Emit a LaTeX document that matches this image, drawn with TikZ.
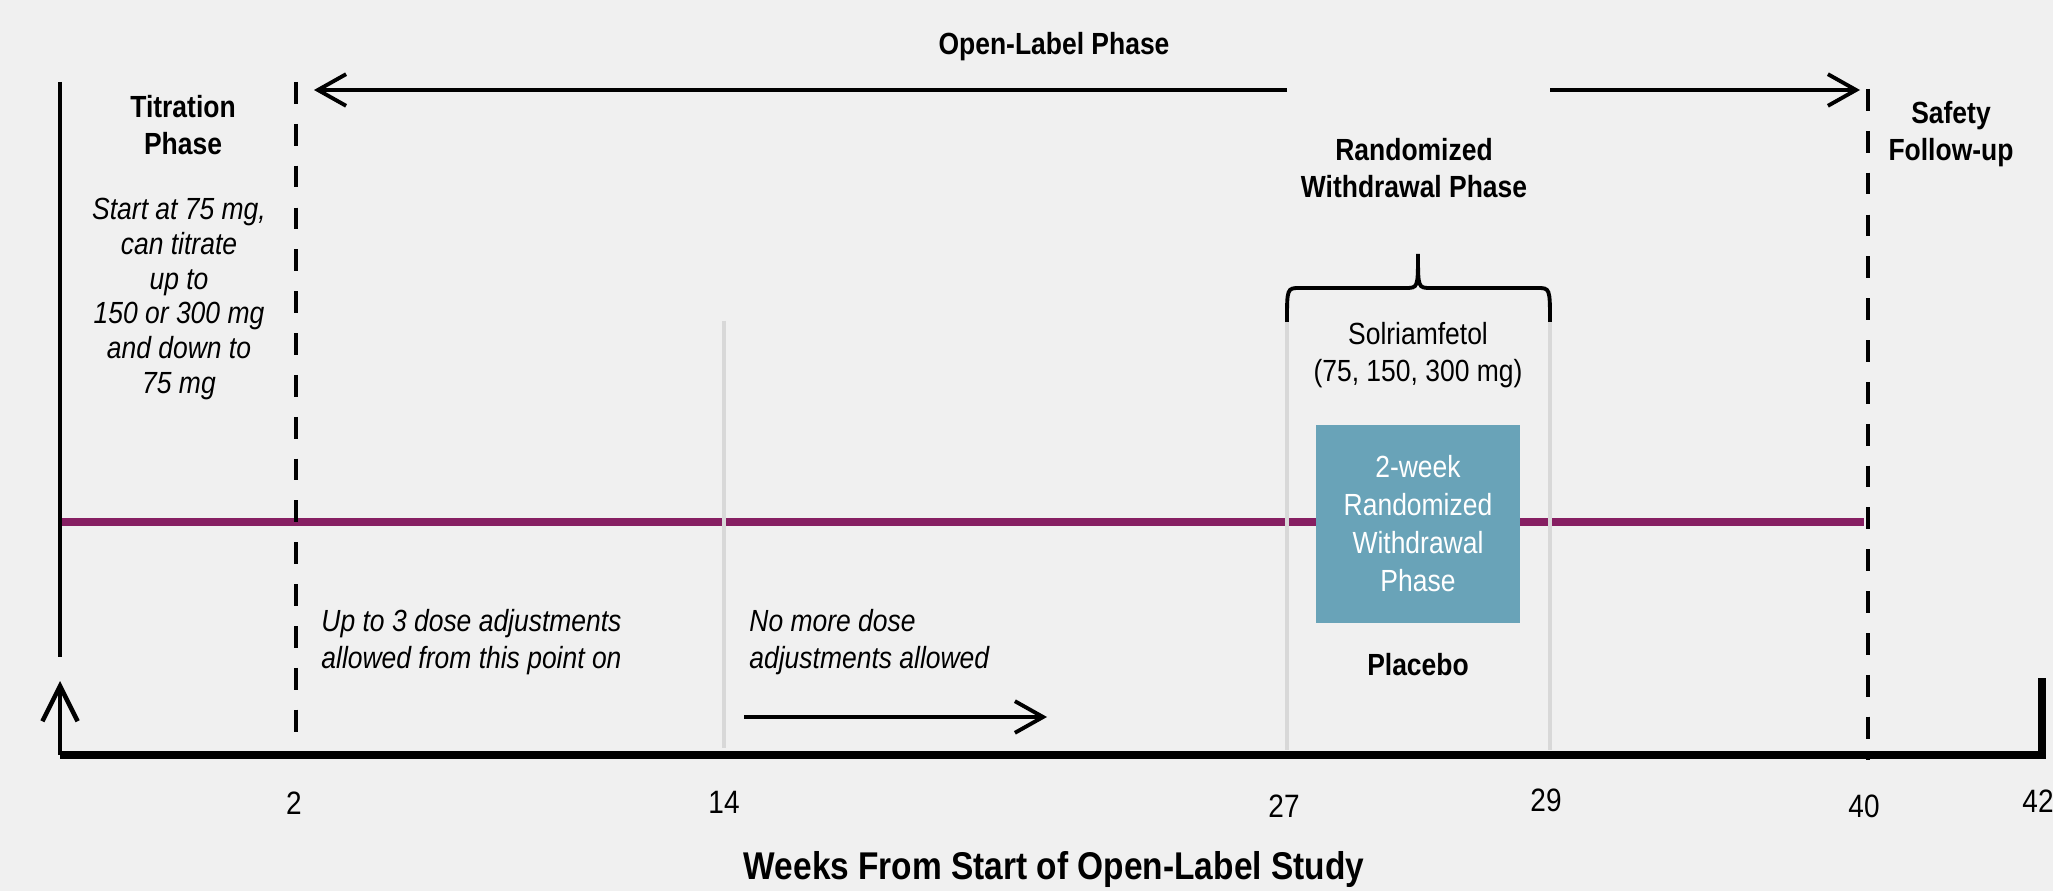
\documentclass[tikz,border=0pt]{standalone}
\usepackage{fontspec}
\setmainfont{Liberation Sans}[FakeStretch=0.865]
\usepackage{tikz}
\usetikzlibrary{arrows.meta,positioning}
\definecolor{bgray}{RGB}{240,240,240}
\definecolor{plum}{RGB}{134,31,98}
\definecolor{steel}{RGB}{105,163,184}
\definecolor{lgray}{RGB}{216,216,216}
\tikzstyle{phase} = [text=black, align=center, font=\bfseries\fontsize{8.7}{10.6}\selectfont]
\tikzstyle{note} = [text=black, align=center, font=\itshape\fontsize{8.7}{9.9}\selectfont]
\tikzstyle{noteleft} = [text=black, align=left, anchor=west, font=\itshape\fontsize{8.7}{10.7}\selectfont]
\tikzstyle{drug} = [text=black, align=center, font=\fontsize{8.7}{10.7}\selectfont]
\tikzstyle{weeklabel} = [text=black, font=\fontsize{9.2}{11}\selectfont]
\tikzstyle{rwbox} = [fill=steel, text=white, align=center, inner sep=0pt, minimum width=2.04cm, minimum height=1.97cm, font=\fontsize{8.7}{10.8}\selectfont]
\tikzstyle{tedge}  = [draw, line width=1.1pt, -{Straight Barb[length=8pt,width=9pt]}]
\tikzstyle{upedge}  = [draw, line width=1.3pt, -{Straight Barb[length=10pt,width=10pt]}]
\tikzstyle{phaseline} = [draw, line width=1.4pt, dash pattern=on 6.2pt off 5.7pt]
\tikzstyle{weekline} = [draw=lgray, line width=0.9pt]
\tikzstyle{timeline} = [draw=plum, line width=2pt]
\tikzstyle{axisline} = [draw, line width=2pt]
\tikzstyle{bracket} = [draw, line width=1.1pt]

\begin{document}
\begin{tikzpicture}[x=0.01cm, y=-0.01cm]

% canvas =============================
\fill[bgray] (0,0) rectangle (2053,891);
\useasboundingbox (0,0) rectangle (2053,891);

% week positions
\coordinate (ax0) at (60,755);
\coordinate (ax42) at (2042,755);
\coordinate (end42) at (2042,678);
\coordinate (start) at (60,681);
\coordinate (top0) at (60,82);
\coordinate (bot0) at (60,657);
\coordinate (top2) at (296,82);
\coordinate (ax2) at (296,755);
\coordinate (top14) at (724,321);
\coordinate (ax14) at (724,748);
\coordinate (top27) at (1287,322);
\coordinate (ax27) at (1287,750);
\coordinate (top29) at (1550,322);
\coordinate (ax29) at (1550,750);
\coordinate (top40) at (1868,89);
\coordinate (ax40) at (1868,760);
\coordinate (tl0) at (60,522);
\coordinate (tl40) at (1864,522);
\coordinate (ol27) at (1287,90);
\coordinate (ol2) at (314,90);
\coordinate (ol29) at (1550,90);
\coordinate (ol40) at (1860,90);
\coordinate (nm14) at (744,717);
\coordinate (nm20) at (1047,717);

% timeline
\path[timeline] (tl0) -- (tl40);

% boundaries
\path[weekline] (top14) -- (ax14);
\path[weekline] (top27) -- (ax27);
\path[weekline] (top29) -- (ax29);
\path[draw, line width=1.2pt] (top0) -- (bot0);
\path[phaseline] (top2) -- (ax2);
\path[phaseline] (top40) -- (ax40);

% axis
\path[axisline] (ax0) -- (ax42) -- (end42);
\path[upedge] (ax0) -- (start);

% open-label span
\node[phase] (olp) at (1054,47) {Open-Label Phase};
\path[tedge] (ol27) -- (ol2);
\path[tedge] (ol29) -- (ol40);

% phases
\node[phase] (titr) at (183,125) {Titration\\Phase};
\node[note] (titrnote) at (179,299) {Start at 75 mg,\\can titrate\\up to\\150 or 300 mg\\and down to\\75 mg};
\node[phase] (rwp) at (1414,168) {Randomized\\Withdrawal Phase};
\node[phase] (safety) at (1951,134) {Safety\\Follow-up};

% randomized withdrawal
\path[bracket] (top27) .. controls (1287,288) .. (1300,288) -- (1405,288)
  .. controls (1418,288) .. (1418,254) .. controls (1418,288) .. (1431,288)
  -- (1537,288) .. controls (1550,288) .. (top29);
\node[drug] (solri) at (1418,355) {Solriamfetol\\(75, 150, 300 mg)};
\node[rwbox] (rwbox) at (1418,524) {2-week\\Randomized\\Withdrawal\\Phase};
\node[phase] (placebo) at (1418,665) {Placebo};

% dose notes
\node[noteleft] (adj) at (309,642) {Up to 3 dose adjustments\\allowed from this point on};
\node[noteleft] (noadj) at (737,642) {No more dose\\adjustments allowed};
\path[tedge] (nm14) -- (nm20);

% week labels
\node[weeklabel] (w2) at (294,803) {2};
\node[weeklabel] (w14) at (724,802) {14};
\node[weeklabel] (w27) at (1284,806) {27};
\node[weeklabel] (w29) at (1546,800) {29};
\node[weeklabel] (w40) at (1864,806) {40};
\node[weeklabel] (w42) at (2038,801) {42};
\node[font=\bfseries\fontsize{11}{13}\selectfont] (xlab) at (1054,869) {Weeks From Start of Open-Label Study};

\end{tikzpicture}
\end{document}
